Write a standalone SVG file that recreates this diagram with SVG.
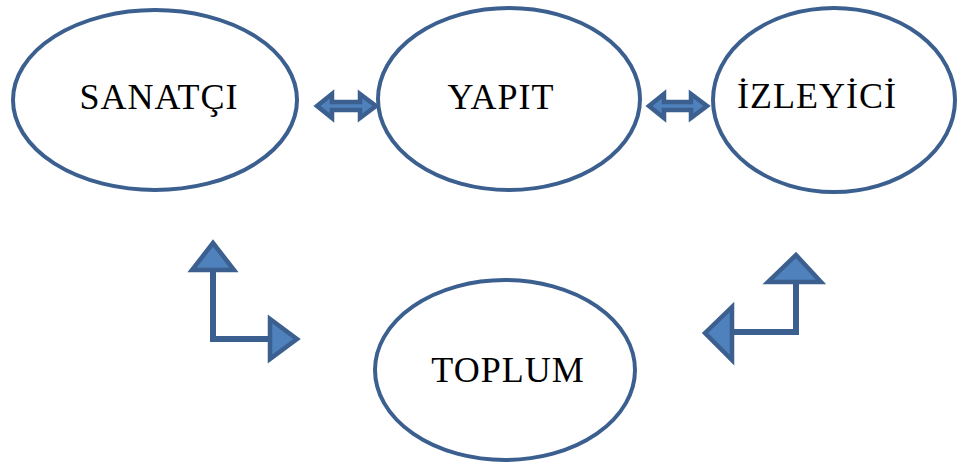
<svg xmlns="http://www.w3.org/2000/svg" width="966" height="473" viewBox="0 0 966 473">
<style>
.node ellipse{fill:#fff;stroke:#3B5F8F;stroke-width:4}
.node text{font-family:"Liberation Serif","Times New Roman",serif;font-size:36px;fill:#000;text-anchor:middle;letter-spacing:1px}
.arr{fill:#4F81BD;stroke:#3B5F8F;stroke-width:4.5;stroke-linejoin:miter}
.shaft{fill:none;stroke:#3B5F8F;stroke-width:6}
</style>
<rect width="966" height="473" fill="#fff"/>
<g id="sanatci" class="node"><ellipse cx="155" cy="100" rx="142" ry="90"/><text x="159" y="109">SANATÇI</text></g>
<g id="yapit" class="node"><ellipse cx="509" cy="99" rx="131" ry="91"/><text x="501" y="109">YAPIT</text></g>
<g id="izleyici" class="node"><ellipse cx="834" cy="100" rx="121" ry="92"/><text x="817" y="108">İZLEYİCİ</text></g>
<g id="toplum" class="node"><ellipse cx="505" cy="370" rx="130" ry="90"/><text x="508" y="382">TOPLUM</text></g>
<g id="connectors">
<path class="arr" d="M317,106 L332,94 L332,102 L360,102 L360,94 L376,106 L360,118 L360,110 L332,110 L332,118 Z"/>
<path class="arr" d="M649,106 L664,94 L664,102 L691,102 L691,94 L707,106 L691,118 L691,110 L664,110 L664,118 Z"/>
<polyline class="shaft" points="213,272 213,339 269,339"/>
<path class="arr" d="M213,243 L234,270 L192,270 Z"/>
<path class="arr" d="M297,339 L270,319 L270,359 Z"/>
<polyline class="shaft" points="796,284 796,332 733,332"/>
<path class="arr" d="M796,255 L821,282 L768,282 Z"/>
<path class="arr" d="M705,333 L732,307 L732,360 Z"/>
</g>
</svg>
